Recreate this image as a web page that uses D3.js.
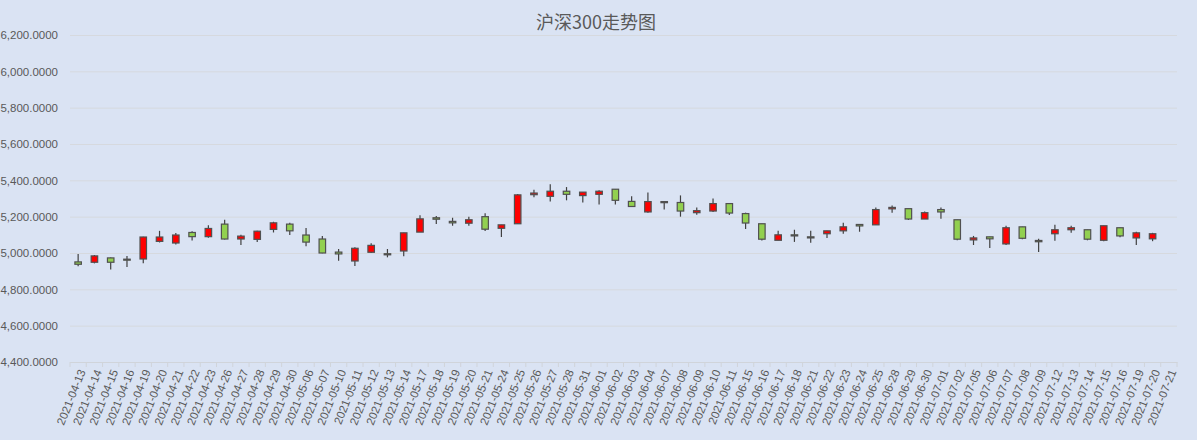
<!DOCTYPE html>
<html lang="zh">
<head>
  <meta charset="UTF-8">
  <title>沪深300走势图</title>
  <style>
    body {
      margin: 0;
      background: #dae3f3;
      font-family: "Liberation Sans", Arial, sans-serif;
    }
  </style>
</head>
<body>
  <div id="chart"></div>

  <script src="https://d3js.org/d3.v7.min.js"></script>
  <script>
    const dates = [
      "2021-04-13", "2021-04-14", "2021-04-15", "2021-04-16", "2021-04-19", "2021-04-20", "2021-04-21",
      "2021-04-22", "2021-04-23", "2021-04-26", "2021-04-27", "2021-04-28", "2021-04-29", "2021-04-30",
      "2021-05-06", "2021-05-07", "2021-05-10", "2021-05-11", "2021-05-12", "2021-05-13", "2021-05-14",
      "2021-05-17", "2021-05-18", "2021-05-19", "2021-05-20", "2021-05-21", "2021-05-24", "2021-05-25",
      "2021-05-26", "2021-05-27", "2021-05-28", "2021-05-31", "2021-06-01", "2021-06-02", "2021-06-03",
      "2021-06-04", "2021-06-07", "2021-06-08", "2021-06-09", "2021-06-10", "2021-06-11", "2021-06-15",
      "2021-06-16", "2021-06-17", "2021-06-18", "2021-06-21", "2021-06-22", "2021-06-23", "2021-06-24",
      "2021-06-25", "2021-06-28", "2021-06-29", "2021-06-30", "2021-07-01", "2021-07-02", "2021-07-05",
      "2021-07-06", "2021-07-07", "2021-07-08", "2021-07-09", "2021-07-12", "2021-07-13", "2021-07-14",
      "2021-07-15", "2021-07-16", "2021-07-19", "2021-07-20", "2021-07-21"
    ];

    // 2021-07-21 has no values in the source sheet
    const open = [
      4951, 4949, 4973, 4966, 4967, 5064, 5055, 5113, 5090, 5159, 5077, 5075, 5130, 5159,
      5099, 5077, 5005, 4956, 5004, 4996, 5011, 5115, 5194, 5174, 5164, 5200, 5136, 5161,
      5321, 5312, 5340, 5316, 5323, 5351, 5284, 5226, 5283, 5278, 5222, 5231, 5272, 5217,
      5161, 5070, 5100, 5089, 5106, 5122, 5157, 5155, 5243, 5244, 5187, 5239, 5183, 5072,
      5089, 5050, 5144, 5069, 5106, 5128, 5128, 5070, 5139, 5083, 5078, null
    ];
    const high = [
      4995, 4989, 4975, 4984, 5090, 5122, 5110, 5120, 5153, 5183, 5100, 5122, 5172, 5166,
      5137, 5093, 5022, 5031, 5053, 5022, 5111, 5208, 5203, 5194, 5200, 5219, 5155, 5325,
      5348, 5379, 5363, 5335, 5346, 5351, 5312, 5333, 5283, 5317, 5250, 5300, 5272, 5222,
      5161, 5122, 5128, 5122, 5122, 5167, 5157, 5250, 5261, 5244, 5228, 5250, 5183, 5094,
      5089, 5150, 5144, 5078, 5156, 5150, 5128, 5150, 5139, 5117, 5111, null
    ];
    const low = [
      4927, 4943, 4909, 4923, 4943, 5058, 5047, 5069, 5084, 5075, 5044, 5060, 5113, 5099,
      5037, 4998, 4958, 4929, 5000, 4976, 4982, 5115, 5159, 5150, 5150, 5121, 5088, 5161,
      5307, 5284, 5290, 5278, 5267, 5267, 5256, 5222, 5239, 5200, 5211, 5226, 5209, 5132,
      5069, 5070, 5061, 5056, 5083, 5106, 5117, 5155, 5222, 5181, 5187, 5189, 5070, 5044,
      5028, 5044, 5076, 5006, 5067, 5111, 5070, 5065, 5087, 5044, 5065, null
    ];
    const close = [
      4938, 4984, 4949, 4963, 5088, 5088, 5099, 5090, 5135, 5077, 5093, 5120, 5166, 5122,
      5060, 5000, 4995, 5026, 5042, 4990, 5111, 5188, 5186, 5166, 5183, 5131, 5155, 5320,
      5330, 5340, 5323, 5335, 5340, 5290, 5256, 5283, 5277, 5231, 5233, 5272, 5220, 5165,
      5076, 5100, 5094, 5083, 5122, 5144, 5149, 5239, 5251, 5187, 5222, 5226, 5076, 5083,
      5078, 5139, 5081, 5062, 5128, 5139, 5076, 5150, 5094, 5111, 5106, null
    ];

    const yTicks = [4400, 4600, 4800, 5000, 5200, 5400, 5600, 5800, 6000, 6200];
    const title = "沪深300走势图";

    const width = 1197;
    const height = 440;
    const plot = { left: 70, right: 1177, top: 35, bottom: 362 };

    const candles = dates.map((d, i) => ({
      date: d, open: open[i], high: high[i], low: low[i], close: close[i]
    })).filter(d => d.open != null);

    const svg = d3.select("#chart").append("svg")
      .attr("width", width)
      .attr("height", height);

    svg.append("rect")
      .attr("width", width)
      .attr("height", height)
      .attr("fill", "#dae3f3");

    const x = d3.scaleBand()
      .domain(dates)
      .range([plot.left, plot.right]);

    const y = d3.scaleLinear()
      .domain([4400, 6200])
      .range([plot.bottom, plot.top]);

    // gridlines + y labels
    const yAxis = d3.axisLeft(y)
      .tickValues(yTicks)
      .tickSize(-(plot.right - plot.left))
      .tickPadding(12)
      .tickFormat(d3.format(",.4f"));

    const gy = svg.append("g")
      .attr("transform", `translate(${plot.left},0)`)
      .call(yAxis);
    gy.select(".domain").remove();
    gy.selectAll(".tick line").attr("stroke", "#d6d9de").attr("stroke-width", 1);
    gy.selectAll(".tick text")
      .attr("fill", "#595959")
      .style("font-size", "11.5px")
      .style("font-family", "'Liberation Sans', Arial, sans-serif");

    // category axis
    const xAxis = d3.axisBottom(x).tickSize(0).tickPadding(0);
    const gx = svg.append("g")
      .attr("transform", `translate(0,${plot.bottom})`)
      .call(xAxis);
    gx.select(".domain").attr("stroke", "#d0d4da");
    gx.selectAll(".tick text")
      .attr("fill", "#595959")
      .style("font-size", "11.5px")
      .style("font-family", "'Liberation Sans', Arial, sans-serif")
      .attr("text-anchor", "end")
      .attr("transform", "translate(4,8) rotate(-68)")
      .attr("dy", "0.35em")
      .attr("y", 0);

    // tick marks at band boundaries
    const bounds = dates.map(d => x(d)).concat([plot.right]);
    svg.append("g").selectAll("line")
      .data(bounds)
      .join("line")
      .attr("x1", d => d).attr("x2", d => d)
      .attr("y1", plot.bottom).attr("y2", plot.bottom + 5)
      .attr("stroke", "#d0d4da");

    // candles
    const bodyW = 6.5;
    const g = svg.append("g");
    const c = g.selectAll("g.candle")
      .data(candles)
      .join("g")
      .attr("class", "candle");

    c.append("line")
      .attr("x1", d => x(d.date) + x.bandwidth() / 2)
      .attr("x2", d => x(d.date) + x.bandwidth() / 2)
      .attr("y1", d => y(d.high))
      .attr("y2", d => y(d.low))
      .attr("stroke", "#404040")
      .attr("stroke-width", 1.2);

    c.append("rect")
      .attr("x", d => x(d.date) + x.bandwidth() / 2 - bodyW / 2)
      .attr("y", d => y(Math.max(d.open, d.close)))
      .attr("width", bodyW)
      .attr("height", d => Math.max(1, Math.abs(y(d.open) - y(d.close))))
      .attr("fill", d => d.close >= d.open ? "#ff0000" : "#92d050")
      .attr("stroke", "#505050")
      .attr("stroke-width", 1.2);

    // title
    svg.append("text")
      .attr("x", 596)
      .attr("y", 29)
      .attr("text-anchor", "middle")
      .attr("fill", "#595959")
      .style("font-size", "18px")
      .style("font-family", "'Noto Sans CJK SC', sans-serif")
      .text(title);
  </script>
</body>
</html>
